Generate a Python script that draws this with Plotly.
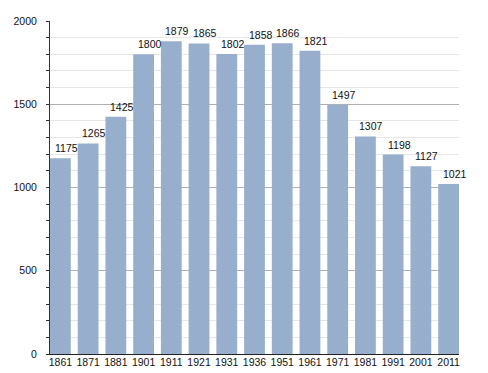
import plotly.graph_objects as go

years = ["1861", "1871", "1881", "1901", "1911", "1921", "1931", "1936",
         "1951", "1961", "1971", "1981", "1991", "2001", "2011"]
population = [1175, 1265, 1425, 1800, 1879, 1865, 1802, 1858,
              1866, 1821, 1497, 1307, 1198, 1127, 1021]
y_ticks = [0, 500, 1000, 1500, 2000]

FONT = "Liberation Sans, Arial, sans-serif"

fig = go.Figure()
fig.add_trace(go.Bar(
    x=years, y=population,
    marker=dict(color="#97afcc", line=dict(width=0)),
    hoverinfo="x+y",
))

for i, val in enumerate(population):
    fig.add_annotation(x=i, y=val, xref="x", yref="y", text=str(val), showarrow=False,
                       yanchor="bottom", xanchor="center", xshift=6, yshift=2,
                       font=dict(family=FONT, size=10.5, color="#111"))

# page body has an 8px margin, so the figure is offset by 8px
fig.update_layout(
    width=480, height=365,
    margin=dict(l=42, r=29, t=13, b=19, autoexpand=False),
    paper_bgcolor="white", plot_bgcolor="white",
    bargap=0.25,
    showlegend=False,
    font=dict(family=FONT, size=10.5, color="#111"),
    xaxis=dict(
        type="category", range=[-0.375, 14.375], automargin=False,
        showgrid=False, showline=True, linecolor="#222", linewidth=1,
        ticks="", tickfont=dict(size=10.5), ticklabelstandoff=-2,
    ),
    yaxis=dict(
        range=[0, 2000], tickvals=y_ticks, automargin=False,
        showgrid=True, gridcolor="#b0b0b0", gridwidth=1,
        showline=True, linecolor="#333", linewidth=1,
        ticks="outside", ticklen=3, tickcolor="#333",
        ticklabelstandoff=7,
        zeroline=False,
        minor=dict(dtick=100, showgrid=True, gridcolor="#e6e6e6",
                   ticks="outside", ticklen=3, tickcolor="#333"),
    ),
)

fig.write_html("out.html")
